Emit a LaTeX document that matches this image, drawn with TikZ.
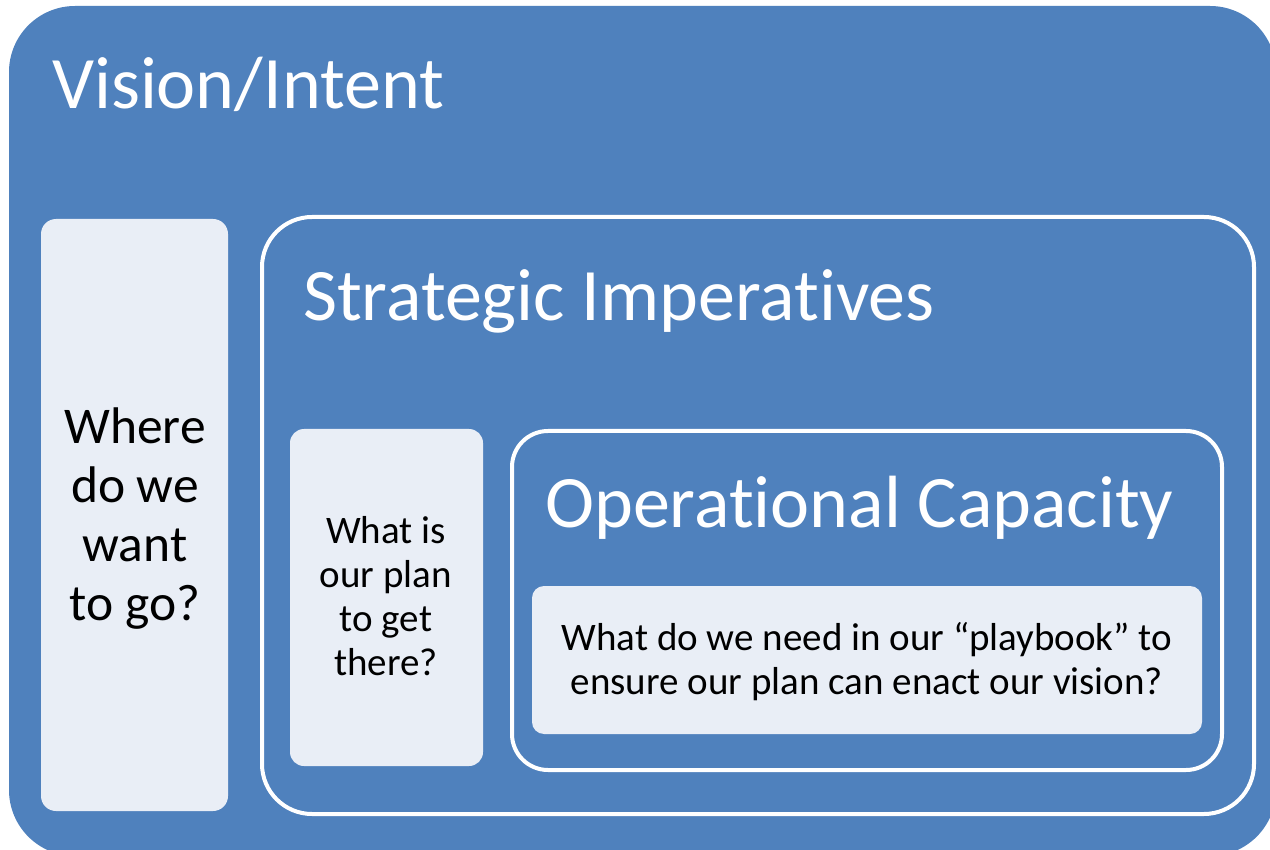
\documentclass[tikz,border=0pt]{standalone}
\usepackage{fontspec}
\setmainfont{Carlito}[Ligatures={NoCommon}]
\definecolor{obl}{HTML}{4F81BD}
\definecolor{lite}{HTML}{E9EEF6}
\tikzset{
  outerbox/.style={fill=obl, rounded corners=66pt},
  litebox/.style={fill=lite, rounded corners=15pt},
  ringbox/.style={draw=white, line width=4pt},
  title/.style={anchor=base west, text=white, inner sep=0pt, font=\fontsize{74}{80}\selectfont},
  boxtext/.style={align=center, text=black, inner sep=0pt},
}
\begin{document}
\begin{tikzpicture}[x=1pt,y=-1pt]
\useasboundingbox (0,0) rectangle (1270,850);
\clip (0,0) rectangle (1270,850);
\fill[white] (0,0) rectangle (1270,850);
\fill[outerbox] (9,6) rectangle (1276,856);
\node[title] (vision) at (52,109) {Vision/Intent};
% left box
\fill[litebox] (41,219) rectangle (228,811);
\node[boxtext, anchor=base, font=\fontsize{51.5}{59}\selectfont] (where) at (135,620) {Where\\do we\\want\\to go?};
% strategic ring
\draw[ringbox, rounded corners=50pt] (262,217) rectangle (1254,814);
\node[title] (strat) at (303,321) {Strategic Imperat\kern0pt ives};
% what is box
\fill[litebox, rounded corners=14pt] (290,429) rectangle (483,766);
\node[boxtext, anchor=base, font=\fontsize{39}{44}\selectfont] (plan) at (386,675) {What is\\our plan\\to get\\there?};
% operational ring
\draw[ringbox, rounded corners=36pt] (512,431) rectangle (1222,770);
\node[title] (oper) at (545,527) {Operat\kern0pt ional Capacity};
% playbook box
\fill[litebox, rounded corners=12pt] (532,586) rectangle (1202,734);
\node[boxtext, anchor=base, font=\fontsize{39}{44}\selectfont] (play) at (867,694) {What do we need in our “playbook” to\\ensure our plan can enact our vision?};
\end{tikzpicture}
\end{document}
